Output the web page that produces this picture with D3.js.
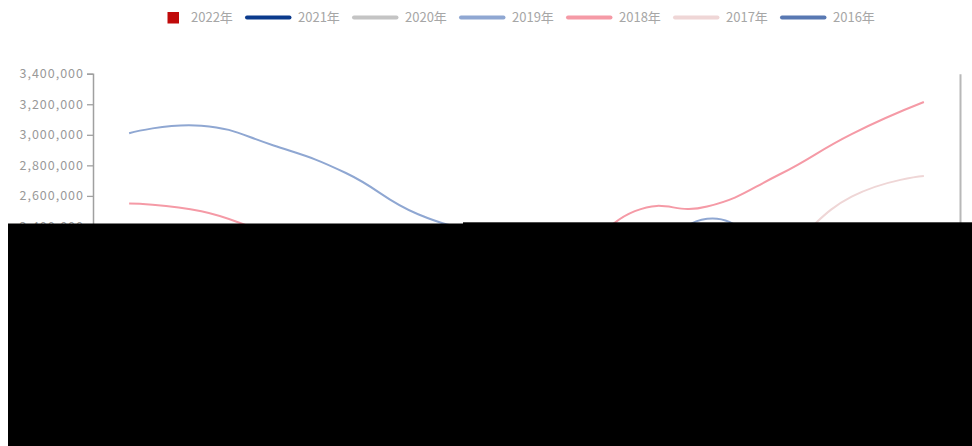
<!DOCTYPE html>
<html>
<head>
<meta charset="utf-8">
<script src="https://cdn.jsdelivr.net/npm/d3@7/dist/d3.min.js"></script>
<style>
body { margin: 0; background: #fff; }
</style>
</head>
<body>
<div class="chart"></div>
<script>
// categories and values (hidden ones estimated)
var months = ["1月", "2月", "3月", "4月", "5月", "6月", "7月", "8月", "9月", "10月", "11月", "12月"];
var years = ["2022年", "2021年", "2020年", "2019年", "2018年", "2017年", "2016年"];
var yTicks = [1200000, 1400000, 1600000, 1800000, 2000000, 2200000, 2400000, 2600000, 2800000, 3000000, 3200000, 3400000];

var v2022 = [2050000, 1850000, 2150000];
var v2021 = [2150000, 1900000, 2200000, 2100000, 2050000, 2000000, 1950000, 2000000, 2100000, 2150000, 2250000, 2300000];
var v2020 = [1950000, 1500000, 1850000, 1900000, 1950000, 1900000, 1850000, 1900000, 2000000, 2050000, 2150000, 2200000];
var v2019 = [3010000, 3060000, 2930000, 2750000, 2480000, 2360000, 2300000, 2150000, 2450000, 2250000, 2300000, 2200000];
var v2018 = [2550000, 2500000, 2350000, 2250000, 2200000, 2100000, 2150000, 2500000, 2530000, 2740000, 3005000, 3215000];
var v2017 = [2250000, 2150000, 2100000, 2050000, 2000000, 1950000, 1900000, 2000000, 2100000, 2245000, 2595000, 2730000];
var v2016 = [2000000, 1800000, 1900000, 1850000, 1800000, 1750000, 1700000, 1800000, 1900000, 2000000, 2100000, 2200000];

var colors = ["#c00a0a", "#0b3a8c", "#c4c4c4", "#8fa7d2", "#f59aa6", "#efd6d6", "#5878b2"];

var W = 972, H = 446;
var plotLeft = 93, plotRight = 960, plotTop = 73.7, plotBottom = 409.75;

var svg = d3.select(".chart").append("svg").attr("width", W).attr("height", H);

var x = d3.scaleBand().domain(months).range([plotLeft, plotRight]);
var y = d3.scaleLinear().domain([1200000, 3400000]).range([plotBottom, plotTop]);

// axes
var yAxis = svg.append("g").attr("transform", "translate(" + plotLeft + ",0)")
    .call(d3.axisLeft(y).tickValues(yTicks).tickFormat(d3.format(",")).tickSize(6).tickPadding(3));
yAxis.select(".domain").attr("stroke", "#a0a0a0").attr("stroke-width", 1.5);
yAxis.selectAll(".tick line").attr("stroke", "#a0a0a0").attr("stroke-width", 1.3);
yAxis.selectAll(".tick text").attr("fill", "#999")
    .attr("font-family", "'Noto Sans CJK SC', sans-serif").attr("font-size", 12.5)
    .attr("letter-spacing", 1);

var yAxisR = svg.append("g").attr("transform", "translate(" + plotRight + ",0)")
    .call(d3.axisRight(y).tickValues([]).tickSizeOuter(0));
yAxisR.select(".domain").attr("stroke", "#b8b8b8").attr("stroke-width", 2);

var xAxis = svg.append("g").attr("transform", "translate(0," + plotBottom + ")")
    .call(d3.axisBottom(x).tickSizeOuter(0));
xAxis.select(".domain").attr("stroke", "#a0a0a0");
xAxis.selectAll("text").attr("fill", "#999").attr("font-size", 12)
    .attr("font-family", "'Noto Sans CJK SC', sans-serif");

// 2022 bars
var barW = 18;
svg.append("g").selectAll("rect").data(v2022).enter().append("rect")
    .attr("x", function(d, i) { return x(months[i]) + x.bandwidth() / 2 - barW / 2; })
    .attr("y", function(d) { return y(d); })
    .attr("width", barW)
    .attr("height", function(d) { return plotBottom - y(d); })
    .attr("fill", colors[0]);

// lines
var lineSeries = [v2021, v2020, v2019, v2018, v2017, v2016];
var line = d3.line()
    .x(function(d, i) { return x(months[i]) + x.bandwidth() / 2; })
    .y(function(d) { return y(d); })
    .curve(d3.curveCardinal.tension(-0.4));

// draw order: lighter/older first so 2019 and 2018 sit on top like the picture
var order = [6, 5, 2, 1, 4, 3];
order.forEach(function(k) {
    svg.append("path").datum(lineSeries[k - 1])
        .attr("d", line)
        .attr("fill", "none")
        .attr("stroke", colors[k])
        .attr("stroke-width", 2);
});

// legend
var legend = svg.append("g").style("font-family", "'Noto Sans CJK SC', sans-serif");
years.forEach(function(name, i) {
    var x0 = 138 + i * 107;
    var g = legend.append("g");
    if (i == 0) {
        g.append("rect").attr("x", x0 + 29.5).attr("y", 12).attr("width", 11.5).attr("height", 11.5).attr("fill", colors[i]);
    } else {
        g.append("line").attr("x1", x0 + 2).attr("x2", x0 + 44.5).attr("y1", 17.5).attr("y2", 17.5)
            .attr("stroke", colors[i]).attr("stroke-width", 4).attr("stroke-linecap", "round");
    }
    g.append("text").attr("x", x0 + 53).attr("y", 17.5).attr("dy", "0.35em")
        .attr("fill", "#a6a6a6").attr("font-size", 13).text(name);
});

// black blocks covering the lower part of the picture
svg.append("rect").attr("x", 8).attr("y", 223.5).attr("width", 455).attr("height", H - 223.5).attr("fill", "#000");
svg.append("rect").attr("x", 463).attr("y", 222.3).attr("width", W - 463).attr("height", H - 222.3).attr("fill", "#000");
</script>
</body>
</html>
